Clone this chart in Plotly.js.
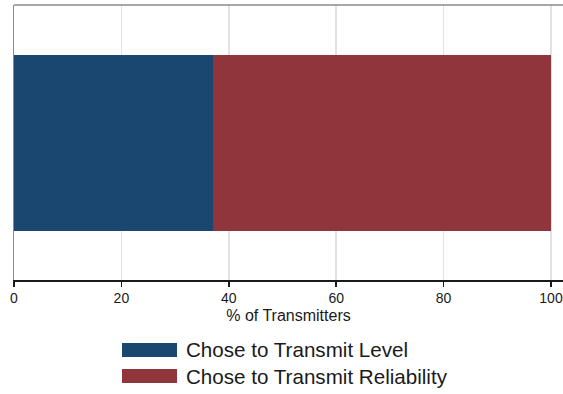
<!DOCTYPE html>
<html>
<head>
<meta charset="utf-8">
<script src="https://cdn.plot.ly/plotly-3.0.1.min.js"></script>
<style>html,body{margin:0;padding:0;background:#fff;}#chart{width:563px;height:394px;}</style>
</head>
<body>
<div id="chart"></div>
<script>
const categories = ['All'];
const seriesNames = ['Chose to Transmit Level', 'Chose to Transmit Reliability'];
const levelPct = [37];
const reliabilityPct = [63];
const xTicks = [0, 20, 40, 60, 80, 100];
const colors = ['#1a476f', '#90353b'];

const W = 563, H = 394;
const mL = 14, mR = 0, mT = 5, mB = 114;
const plotW = W - mL - mR, plotH = H - mT - mB;
const px = x => (x - mL) / plotW;
const py = y => (H - mB - y) / plotH;

const traces = [
  {type: 'bar', orientation: 'h', y: categories, x: levelPct, name: seriesNames[0],
   marker: {color: colors[0], line: {width: 0}}, showlegend: false, hoverinfo: 'x'},
  {type: 'bar', orientation: 'h', y: categories, x: reliabilityPct, name: seriesNames[1],
   marker: {color: colors[1], line: {width: 0}}, showlegend: false, hoverinfo: 'x'}
];

const swatches = [[343, 357], [369, 383]];
const shapes = [
  {type: 'line', xref: 'paper', yref: 'paper', x0: 0, x1: 1, y0: 1, y1: 1,
   line: {color: '#8a8a8a', width: 1.5}}
];
const annotations = [];
seriesNames.forEach((n, i) => {
  shapes.push({type: 'rect', xref: 'paper', yref: 'paper',
    x0: px(122), x1: px(177), y0: py(swatches[i][1]), y1: py(swatches[i][0]),
    fillcolor: colors[i], line: {width: 0}});
  annotations.push({xref: 'paper', yref: 'paper', x: px(184), y: py((swatches[i][0] + swatches[i][1]) / 2),
    xanchor: 'left', yanchor: 'middle', showarrow: false, text: n,
    font: {family: 'Liberation Sans, Arial, sans-serif', size: 20.6, color: '#1a1a1a'}});
});

const layout = {
  width: W, height: H,
  margin: {l: mL, r: mR, t: mT, b: mB, pad: 0},
  paper_bgcolor: '#ffffff', plot_bgcolor: '#ffffff',
  barmode: 'stack', bargap: 0.36,
  showlegend: false,
  font: {family: 'Liberation Sans, Arial, sans-serif', color: '#1a1a1a'},
  xaxis: {
    range: [0, 100 * plotW / 537], tickvals: xTicks, ticktext: xTicks.map(String),
    showgrid: true, gridcolor: '#e2e2e2', gridwidth: 1.5, zeroline: false,
    showline: true, linecolor: '#1a1a1a', linewidth: 1.5,
    ticks: 'outside', ticklen: 5, tickcolor: '#1a1a1a', tickwidth: 1.5,
    tickfont: {size: 14, color: '#1a1a1a'},
    title: {text: '% of Transmitters', font: {size: 16, color: '#1a1a1a'}, standoff: 4},
    fixedrange: true
  },
  yaxis: {
    range: [-0.5, 0.5], showticklabels: false, ticks: '', showgrid: false, zeroline: false,
    showline: true, linecolor: '#8a8a8a', linewidth: 1.5, fixedrange: true
  },
  shapes: shapes,
  annotations: annotations
};

Plotly.newPlot('chart', traces, layout, {displayModeBar: false, staticPlot: true});
</script>
</body>
</html>
